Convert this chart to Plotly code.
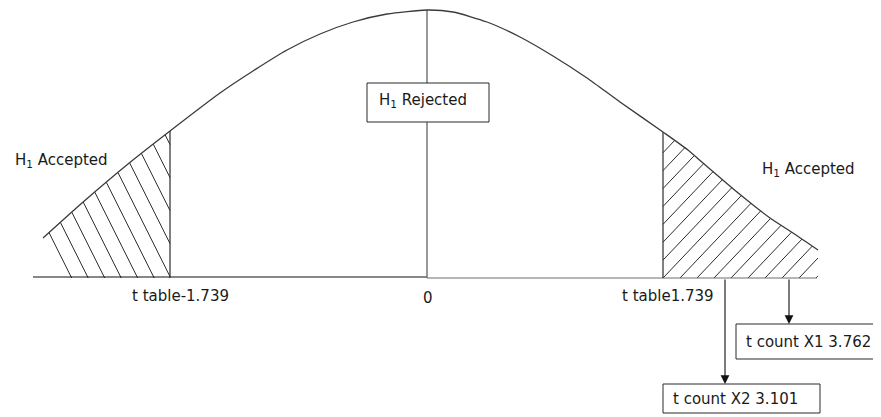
"""
t-test decision diagram: two-tailed critical regions with t count markers.
Drawn in a pixel-like diagram space (x across, y = height above baseline).
"""
import numpy as np
import plotly.graph_objects as go

# ── Data ──────────────────────────────────────────────────────────────────────
curve_x = [43, 82, 128, 170, 220, 253, 287, 320, 353, 387, 427,
           453, 487, 520, 553, 587, 620, 663, 688, 703, 737, 770, 793, 818]
curve_h = [40, 75, 114, 147, 185, 207, 228, 244, 256, 264, 268,
           266, 256, 241, 222, 200, 176, 146, 128, 115, 86, 60, 45, 28]

t_table = 1.739
crit_x = [170, 663]            # where -t table / +t table sit on the baseline
center_x = 427
t_count_labels = ["X1", "X2"]
t_count_values = [3.762, 3.101]
t_count_x = [789, 725]

_INK = "#2b2b2b"
_GREY = "#6e6e6e"
_FONT = dict(family="DejaVu Sans, Verdana, sans-serif", size=15, color="#1a1a1a")
_PAGE_PAD = 8   # browser body margin around the plot div


def _curve_at(x):
    return float(np.interp(x, curve_x, curve_h))


def _hatch(x_lo, x_hi, x_start, step, count, k):
    """Parallel hatch lines x = xb + k*h clipped to the area under the curve."""
    hh = np.linspace(0, 300, 6001)
    xs_out, ys_out = [], []
    for i in range(count):
        xs = x_start + i * step + k * hh
        inside = (xs >= x_lo) & (xs <= x_hi) & (hh <= np.interp(xs, curve_x, curve_h))
        idx = np.where(inside)[0]
        if len(idx) < 2:
            continue
        xs_out += [xs[idx[0]], xs[idx[-1]], None]
        ys_out += [hh[idx[0]], hh[idx[-1]], None]
    return xs_out, ys_out


fig = go.Figure()

# hatched rejection tails
lx, ly = _hatch(curve_x[0], crit_x[0], 71.7, 16.5, 12, -0.5)
rx, ry = _hatch(crit_x[1], curve_x[-1], crit_x[1] - 7 * 17, 17, 17, 0.95)
for hx, hy in ((lx, ly), (rx, ry)):
    fig.add_trace(go.Scatter(x=hx, y=hy, mode="lines", hoverinfo="skip",
                             line=dict(color=_INK, width=1)))

# baseline (slightly offset halves, as in the source drawing)
fig.add_trace(go.Scatter(x=[33, center_x], y=[1, 1], mode="lines",
                         line=dict(color="#111", width=1.2), hoverinfo="skip"))
fig.add_trace(go.Scatter(x=[center_x, 817], y=[0, 0], mode="lines",
                         line=dict(color=_GREY, width=1.2), hoverinfo="skip"))

# critical value verticals and centre line
for cx in crit_x:
    fig.add_trace(go.Scatter(x=[cx, cx], y=[0, _curve_at(cx)], mode="lines",
                             line=dict(color=_INK, width=1.2), hoverinfo="skip"))
fig.add_trace(go.Scatter(x=[center_x, center_x], y=[0, _curve_at(center_x)], mode="lines",
                         line=dict(color=_GREY, width=1.4), hoverinfo="skip"))

# distribution curve
fig.add_trace(go.Scatter(x=curve_x, y=curve_h, mode="lines",
                         line=dict(color="#3a3a3a", width=1.3, shape="spline", smoothing=0.6),
                         hoverinfo="skip"))

# ── Boxes & labels ────────────────────────────────────────────────────────────
boxes = [
    dict(x0=367, x1=489, y0=156, y1=195),      # H1 Rejected
    dict(x0=736, x1=880, y0=-81, y1=-46),      # t count X1
    dict(x0=663, x1=820, y0=-135, y1=-106),    # t count X2
]
for b in boxes:
    fig.add_shape(type="rect", xref="x", yref="y", layer="above",
                  line=dict(color=_INK, width=1), fillcolor="white", **b)

texts = [
    (423, 178, "H<sub>1</sub> Rejected", "center"),
    (13, 118, "H<sub>1</sub> Accepted", "left"),
    (760, 109, "H<sub>1</sub> Accepted", "left"),
    (180, -18, f"t table-{t_table}", "center"),
    (center_x + 1, -20, "0", "center"),
    (668, -18, f"t table{t_table}", "center"),
    (808, -64, f"t count {t_count_labels[0]} {t_count_values[0]}", "center"),
    (735, -121, f"t count {t_count_labels[1]} {t_count_values[1]}", "center"),
]
for x, y, txt, anchor in texts:
    fig.add_annotation(x=x, y=y, text=txt, showarrow=False, xanchor=anchor,
                       yanchor="middle", font=_FONT)

# arrows from the baseline down to the t count boxes
tips = [boxes[1]["y1"], boxes[2]["y1"]]
for tx, tip in zip(t_count_x, tips):
    fig.add_annotation(x=tx, y=tip, ax=tx, ay=0, xref="x", yref="y",
                       axref="x", ayref="y", text="", showarrow=True,
                       arrowhead=2, arrowsize=1.6, arrowwidth=1.1,
                       arrowcolor="#111", standoff=0)

fig.update_layout(
    width=881, height=417,
    margin=dict(l=0, r=0, t=0, b=0),
    paper_bgcolor="white", plot_bgcolor="white",
    showlegend=False,
    xaxis=dict(range=[_PAGE_PAD, 881 + _PAGE_PAD], visible=False, fixedrange=True),
    yaxis=dict(range=[-139 - _PAGE_PAD, 278 - _PAGE_PAD], visible=False, fixedrange=True),
)

fig.write_html("out.html")
